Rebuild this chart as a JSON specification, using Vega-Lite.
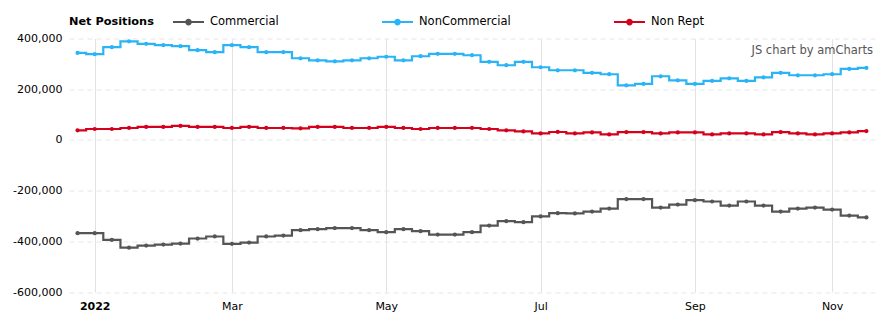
{
  "$schema": "https://vega.github.io/schema/vega-lite/v6.json",
  "autosize": "none",
  "width": 806,
  "height": 253.5,
  "padding": {"left": 69, "top": 38.5, "right": 16, "bottom": 34},
  "config": {
    "font": "DejaVu Sans",
    "view": {"stroke": null},
    "axis": {"labelFont": "DejaVu Sans", "labelFontSize": 11, "labelColor": "#000000"}
  },
  "data": {
    "values": [
      {"date": "2021-12-28", "Commercial": -368000, "NonCommercial": 343000, "Non Rept": 37600},
      {"date": "2022-01-04", "Commercial": -368000, "NonCommercial": 338000, "Non Rept": 43000},
      {"date": "2022-01-11", "Commercial": -394500, "NonCommercial": 365600, "Non Rept": 43000},
      {"date": "2022-01-18", "Commercial": -425000, "NonCommercial": 389000, "Non Rept": 47000},
      {"date": "2022-01-25", "Commercial": -417000, "NonCommercial": 379000, "Non Rept": 51000},
      {"date": "2022-02-01", "Commercial": -413000, "NonCommercial": 373600, "Non Rept": 51000},
      {"date": "2022-02-08", "Commercial": -409000, "NonCommercial": 369600, "Non Rept": 55000},
      {"date": "2022-02-15", "Commercial": -389000, "NonCommercial": 353800, "Non Rept": 51000},
      {"date": "2022-02-22", "Commercial": -381000, "NonCommercial": 345900, "Non Rept": 51000},
      {"date": "2022-03-01", "Commercial": -410000, "NonCommercial": 373600, "Non Rept": 47000},
      {"date": "2022-03-08", "Commercial": -405000, "NonCommercial": 365600, "Non Rept": 51000},
      {"date": "2022-03-15", "Commercial": -381000, "NonCommercial": 345900, "Non Rept": 47000},
      {"date": "2022-03-22", "Commercial": -377500, "NonCommercial": 346500, "Non Rept": 47000},
      {"date": "2022-03-29", "Commercial": -356000, "NonCommercial": 322000, "Non Rept": 45500},
      {"date": "2022-04-05", "Commercial": -352000, "NonCommercial": 314000, "Non Rept": 51000},
      {"date": "2022-04-12", "Commercial": -348000, "NonCommercial": 310000, "Non Rept": 51000},
      {"date": "2022-04-19", "Commercial": -348000, "NonCommercial": 314000, "Non Rept": 47000},
      {"date": "2022-04-26", "Commercial": -356000, "NonCommercial": 322000, "Non Rept": 47000},
      {"date": "2022-05-03", "Commercial": -364000, "NonCommercial": 328000, "Non Rept": 51000},
      {"date": "2022-05-10", "Commercial": -352000, "NonCommercial": 314000, "Non Rept": 47000},
      {"date": "2022-05-17", "Commercial": -360000, "NonCommercial": 330000, "Non Rept": 43000},
      {"date": "2022-05-24", "Commercial": -373500, "NonCommercial": 339600, "Non Rept": 47000},
      {"date": "2022-05-31", "Commercial": -373500, "NonCommercial": 339600, "Non Rept": 47000},
      {"date": "2022-06-07", "Commercial": -364000, "NonCommercial": 334000, "Non Rept": 47000},
      {"date": "2022-06-14", "Commercial": -338000, "NonCommercial": 308000, "Non Rept": 43000},
      {"date": "2022-06-21", "Commercial": -320600, "NonCommercial": 294500, "Non Rept": 37600},
      {"date": "2022-06-28", "Commercial": -324500, "NonCommercial": 308000, "Non Rept": 33600},
      {"date": "2022-07-05", "Commercial": -302000, "NonCommercial": 286600, "Non Rept": 25700},
      {"date": "2022-07-12", "Commercial": -289000, "NonCommercial": 274700, "Non Rept": 31200},
      {"date": "2022-07-19", "Commercial": -290000, "NonCommercial": 274700, "Non Rept": 25700},
      {"date": "2022-07-26", "Commercial": -282600, "NonCommercial": 264500, "Non Rept": 29600},
      {"date": "2022-08-02", "Commercial": -270800, "NonCommercial": 259000, "Non Rept": 21700},
      {"date": "2022-08-09", "Commercial": -233600, "NonCommercial": 215400, "Non Rept": 31000},
      {"date": "2022-08-16", "Commercial": -233600, "NonCommercial": 221000, "Non Rept": 31000},
      {"date": "2022-08-23", "Commercial": -266800, "NonCommercial": 251000, "Non Rept": 25700},
      {"date": "2022-08-30", "Commercial": -255000, "NonCommercial": 235000, "Non Rept": 29600},
      {"date": "2022-09-06", "Commercial": -237600, "NonCommercial": 221000, "Non Rept": 29600},
      {"date": "2022-09-13", "Commercial": -243000, "NonCommercial": 232800, "Non Rept": 21700},
      {"date": "2022-09-20", "Commercial": -259000, "NonCommercial": 243000, "Non Rept": 25700},
      {"date": "2022-09-27", "Commercial": -243000, "NonCommercial": 232800, "Non Rept": 25700},
      {"date": "2022-10-04", "Commercial": -259000, "NonCommercial": 247000, "Non Rept": 21700},
      {"date": "2022-10-11", "Commercial": -282600, "NonCommercial": 264500, "Non Rept": 31000},
      {"date": "2022-10-18", "Commercial": -270800, "NonCommercial": 255000, "Non Rept": 25700},
      {"date": "2022-10-25", "Commercial": -266800, "NonCommercial": 255000, "Non Rept": 21700},
      {"date": "2022-11-01", "Commercial": -274700, "NonCommercial": 259000, "Non Rept": 25700},
      {"date": "2022-11-08", "Commercial": -298500, "NonCommercial": 280000, "Non Rept": 29600},
      {"date": "2022-11-15", "Commercial": -306000, "NonCommercial": 284000, "Non Rept": 35000}
    ]
  },
  "layer": [
    {
      "transform": [{"fold": ["Commercial", "NonCommercial", "Non Rept"], "as": ["series", "value"]}],
      "mark": {"type": "line", "interpolate": "step", "strokeWidth": 2.2, "point": {"filled": true, "size": 18, "opacity": 1}},
      "encoding": {
        "x": {
          "field": "date", "type": "temporal",
          "scale": {"type": "utc", "domain": [{"year": 2021, "month": 12, "date": 24, "hours": 12, "utc": true}, {"year": 2022, "month": 11, "date": 18, "hours": 12, "utc": true}]},
          "axis": {
            "title": null,
            "values": [
              {"year": 2022, "month": 1, "date": 4, "utc": true},
              {"year": 2022, "month": 3, "date": 1, "utc": true},
              {"year": 2022, "month": 5, "date": 3, "utc": true},
              {"year": 2022, "month": 7, "date": 5, "utc": true},
              {"year": 2022, "month": 9, "date": 6, "utc": true},
              {"year": 2022, "month": 11, "date": 1, "utc": true}
            ],
            "labelExpr": "utcFormat(datum.value, '%m') == '01' ? utcFormat(datum.value, '%Y') : utcFormat(datum.value, '%b')",
            "labelFontWeight": {"condition": {"test": "utcFormat(datum.value, '%m') == '01'", "value": "bold"}, "value": "normal"},
            "labelPadding": 8,
            "ticks": false,
            "domain": false,
            "grid": true,
            "gridColor": "#e2e2e2",
            "gridWidth": 1
          }
        },
        "y": {
          "field": "value", "type": "quantitative",
          "scale": {"domain": [-600000, 400000], "nice": false, "zero": false},
          "axis": {
            "title": null,
            "values": [-600000, -400000, -200000, 0, 200000, 400000],
            "labelExpr": "replace(format(datum.value, ','), '\u2212', '-')",
            "labelPadding": 7,
            "ticks": false,
            "domain": false,
            "grid": true,
            "gridColor": "#e6e6e6",
            "gridDash": [5, 4],
            "gridWidth": 1
          }
        },
        "color": {
          "field": "series", "type": "nominal",
          "scale": {"domain": ["Commercial", "NonCommercial", "Non Rept"], "range": ["#555555", "#29b4f8", "#d5001c"]},
          "legend": {
            "orient": "none",
            "legendX": 0,
            "legendY": -33,
            "direction": "horizontal",
            "title": "Net Positions",
            "titleOrient": "left",
            "titleFontWeight": "bold",
            "titleFontSize": 11.3,
            "titleColor": "#000000",
            "titlePadding": 18,
            "titleBaseline": "middle",
            "titleAnchor": "middle",
            "labelFontSize": 11.5,
            "labelColor": "#000000",
            "labelOffset": 5,
            "columnPadding": 99,
            "symbolType": "M-1,0L1,0M0.15,0A0.15,0.15,0,1,1,-0.15,0A0.15,0.15,0,1,1,0.15,0Z",
            "symbolSize": 961,
            "symbolStrokeWidth": 2,
            "encode": {
              "title": {"update": {"dy": {"value": 5}}},
              "symbols": {"update": {"fill": {"scale": "color", "field": "value"}, "stroke": {"scale": "color", "field": "value"}, "opacity": {"value": 1}}}
            }
          }
        }
      }
    },
    {
      "data": {"values": [{"t": "JS chart by amCharts"}]},
      "mark": {"type": "text", "align": "right", "baseline": "middle", "dx": -2, "fontSize": 11.5, "color": "#555555", "font": "DejaVu Sans"},
      "encoding": {
        "x": {"datum": {"year": 2022, "month": 11, "date": 18, "hours": 12, "utc": true}, "type": "temporal"},
        "y": {"datum": 350000, "type": "quantitative"},
        "text": {"field": "t"}
      }
    }
  ]
}
